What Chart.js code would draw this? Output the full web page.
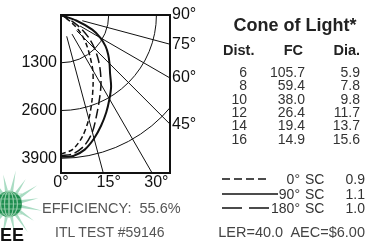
<!DOCTYPE html>
<html><head><meta charset="utf-8">
<script src="https://cdn.jsdelivr.net/npm/chart.js@4/dist/chart.umd.min.js"></script>
<style>
html,body{margin:0;padding:0;background:#fff;}
#wrap{position:relative;width:380px;height:242px;overflow:hidden;font-family:"Liberation Sans",Arial,Helvetica,sans-serif;}
#c{position:absolute;left:0;top:0;}
.t{position:absolute;white-space:nowrap;line-height:1;}
</style></head><body>
<div id="wrap"><canvas id="c" width="380" height="242"></canvas></div>
<script>
// ---- data ----
const angles90 = [0, 5, 10, 15, 20, 25, 30, 35, 40, 45, 50, 55, 60, 65, 70, 74];
const cd90SC   = [3860, 3850, 3720, 3480, 3200, 2920, 2640, 2380, 2080, 1870, 1680, 1480, 1240, 940, 440, 0];
const anglesDash = [0, 5, 10, 15, 20, 25, 30, 35, 40, 45, 50, 55, 60, 64];
const cd0SC    = [3785, 3670, 3360, 2930, 2470, 2070, 1730, 1380, 1100, 850, 600, 330, 120, 0];
const cd180SC  = [3830, 3790, 3620, 3300, 2860, 2490, 2180, 1870, 1580, 1300, 1020, 720, 400, 0];
const candelaTicks = [1300, 2600, 3900];
const rayAngles = [15, 30, 45, 60, 75];
const rightAngleLabels = [90, 75, 60, 45];
const bottomAngleLabels = [0, 15, 30];
const bottomTickValues = [0, 1300, 2600];
const coneDist = ['6', '8', '10', '12', '14', '16'];
const coneFC = ['105.7', '59.4', '38.0', '26.4', '19.4', '14.9'];
const coneDia = ['5.9', '7.8', '9.8', '11.7', '13.7', '15.6'];
const legendDeg = ['0°', '90°', '180°'];
const legendSC = ['0.9', '1.1', '1.0'];

const XMAX = 2970, YMAX = 4300;
const rad = a => a * Math.PI / 180;
const toXY = (ang, arr) => ang.map((a, i) => ({x: arr[i] * Math.sin(rad(a)), y: arr[i] * Math.cos(rad(a))}));

// ---- html text ----
const wrap = document.getElementById('wrap');
function put(txt, x, yc, align, css) {
  const d = document.createElement('div');
  d.className = 't';
  d.textContent = txt;
  Object.assign(d.style, css || {});
  const fs = parseFloat(d.style.fontSize || '14');
  d.style.fontSize = fs + 'px';
  d.style.top = (yc - 0.49 * fs) + 'px';
  if (align === 'right') d.style.right = (380 - x) + 'px';
  else if (align === 'center') { d.style.left = x + 'px'; d.style.transform = 'translateX(-50%)'; }
  else d.style.left = x + 'px';
  wrap.appendChild(d);
}
put('Cone of Light*', 295, 25, 'center', {fontSize: '18px', fontWeight: 'bold', color: '#222'});
put('Dist.', 223, 50, 'left', {fontSize: '14.5px', fontWeight: 'bold', color: '#222'});
put('FC', 303, 50, 'right', {fontSize: '14.5px', fontWeight: 'bold', color: '#222'});
put('Dia.', 360, 50, 'right', {fontSize: '14.5px', fontWeight: 'bold', color: '#222'});
coneDist.forEach((d, i) => {
  const yc = 72 + i * 13.3;
  put(d, 247, yc, 'right', {fontSize: '14px', color: '#333'});
  put(coneFC[i], 305, yc, 'right', {fontSize: '14px', color: '#333'});
  put(coneDia[i], 360, yc, 'right', {fontSize: '14px', color: '#333'});
});
legendDeg.forEach((d, i) => {
  const yc = [179, 194, 208][i];
  put(d, 300, yc, 'right', {fontSize: '14px', color: '#333'});
  put('SC', 305, yc, 'left', {fontSize: '14px', color: '#333'});
  put(legendSC[i], 365, yc, 'right', {fontSize: '14px', color: '#333'});
});
put('LER=40.0  AEC=$6.00', 365, 232, 'right', {fontSize: '14.5px', color: '#444', whiteSpace: 'pre'});
put('EFFICIENCY:  55.6%', 42, 208, 'left', {fontSize: '14.5px', color: '#555', whiteSpace: 'pre'});
put('ITL TEST #59146', 55, 232, 'left', {fontSize: '14px', color: '#555'});
put('EE', 0, 235, 'left', {fontSize: '18px', fontWeight: 'bold', color: '#111'});

// ---- plugin ----
const polarGrid = {
  id: 'polarGrid',
  beforeDatasetsDraw(chart) {
    const {ctx, chartArea: ca, scales: {x, y}} = chart;
    const x0 = x.getPixelForValue(0), y0 = y.getPixelForValue(0);
    ctx.save();
    ctx.beginPath(); ctx.rect(ca.left, ca.top, ca.right - ca.left, ca.bottom - ca.top); ctx.clip();
    ctx.strokeStyle = '#111'; ctx.lineWidth = 1;
    candelaTicks.forEach(r => {
      const rx = x.getPixelForValue(r) - x0, ry = y.getPixelForValue(r) - y0;
      ctx.beginPath(); ctx.ellipse(x0, y0, rx, ry, 0, 0, Math.PI / 2); ctx.stroke();
    });
    rayAngles.forEach(a => {
      const s = Math.sin(rad(a)), c = Math.cos(rad(a));
      ctx.beginPath();
      ctx.moveTo(x.getPixelForValue(600 * s), y.getPixelForValue(600 * c));
      ctx.lineTo(x.getPixelForValue(9000 * s), y.getPixelForValue(9000 * c));
      ctx.stroke();
    });
    ctx.restore();
  },
  afterDatasetsDraw(chart) {
    const {ctx, chartArea: ca} = chart;
    ctx.save();
    ctx.strokeStyle = '#111'; ctx.lineWidth = 2;
    ctx.strokeRect(ca.left, ca.top, ca.right - ca.left, ca.bottom - ca.top);
    // legend samples
    ctx.lineWidth = 1.5;
    const samples = [[222, 268, 179, [8, 4]], [222, 278, 194, []], [222, 270, 208, [20, 7]]];
    samples.forEach(([a, b, yy, dash]) => {
      ctx.setLineDash(dash); ctx.beginPath(); ctx.moveTo(a, yy); ctx.lineTo(b, yy); ctx.stroke();
    });
    ctx.setLineDash([]);
    // logo globe
    const gx = 9, gy = 204;
    ctx.fillStyle = '#a9dcc3';
    for (let k = 0; k < 16; k++) {
      const t = k * Math.PI / 8 + 0.2, L = (k % 2 ? 30 : 34);
      ctx.beginPath();
      ctx.moveTo(gx + Math.cos(t - 0.12) * 13, gy + Math.sin(t - 0.12) * 13);
      ctx.lineTo(gx + Math.cos(t) * L, gy + Math.sin(t) * L);
      ctx.lineTo(gx + Math.cos(t + 0.12) * 13, gy + Math.sin(t + 0.12) * 13);
      ctx.fill();
    }
    ctx.fillStyle = '#1f8e50';
    ctx.beginPath(); ctx.arc(gx, gy, 13, 0, Math.PI * 2); ctx.fill();
    ctx.strokeStyle = '#9ed3b2'; ctx.lineWidth = 0.7;
    for (let k = -2; k <= 2; k++) {
      ctx.beginPath(); ctx.ellipse(gx, gy, Math.abs(k) * 4 + 0.5, 13, 0, 0, Math.PI * 2); ctx.stroke();
      ctx.beginPath(); ctx.moveTo(gx - 13, gy + k * 5); ctx.lineTo(gx + 13, gy + k * 5); ctx.stroke();
    }
    ctx.restore();
  }
};

const lineDs = (label, ang, arr, dash, w) => ({
  label, data: toXY(ang, arr), showLine: true, pointRadius: 0, borderColor: '#111',
  borderWidth: w, borderDash: dash, tension: 0.3, fill: false
});

new Chart(document.getElementById('c'), {
  type: 'scatter',
  data: {datasets: [
    lineDs('0° SC', anglesDash, cd0SC, [5, 3], 1.5),
    lineDs('90° SC', angles90, cd90SC, [], 2),
    lineDs('180° SC', anglesDash, cd180SC, [10, 4], 1.5)
  ]},
  options: {
    responsive: false, animation: false, devicePixelRatio: 1,
    layout: {padding: {top: 15, left: 0, right: 0, bottom: 0}},
    plugins: {legend: {display: false}, tooltip: {enabled: false}},
    scales: {
      x: {
        type: 'linear', position: 'bottom', min: 0, max: XMAX,
        afterFit(s) { s.height = 69; },
        afterBuildTicks(s) { s.ticks = bottomTickValues.map(v => ({value: v})); },
        ticks: {callback: (v, i) => bottomAngleLabels[i] + '°', color: '#111', font: {size: 16, family: 'Liberation Sans'}, padding: 0, maxRotation: 0, autoSkip: false},
        grid: {display: false, drawTicks: false}, border: {display: false}
      },
      y: {
        type: 'linear', position: 'left', min: 0, max: YMAX, reverse: true,
        afterFit(s) { s.width = 61; },
        afterBuildTicks(s) { s.ticks = candelaTicks.map(v => ({value: v})); },
        ticks: {callback: v => String(v), color: '#111', font: {size: 16, family: 'Liberation Sans'}, padding: 4, autoSkip: false},
        grid: {display: false, drawTicks: false}, border: {display: false}
      },
      y2: {
        type: 'linear', position: 'right', min: 0, max: YMAX, reverse: true,
        afterFit(s) { s.width = 210; },
        afterBuildTicks(s) { s.ticks = rightAngleLabels.map(a => ({value: a === 90 ? 0 : XMAX / Math.tan(rad(a))})); },
        ticks: {callback: (v, i) => rightAngleLabels[i] + '°', color: '#111', font: {size: 16, family: 'Liberation Sans'}, padding: 2, autoSkip: false},
        grid: {display: false, drawTicks: false}, border: {display: false}
      }
    }
  },
  plugins: [polarGrid]
});
</script>
</body></html>
